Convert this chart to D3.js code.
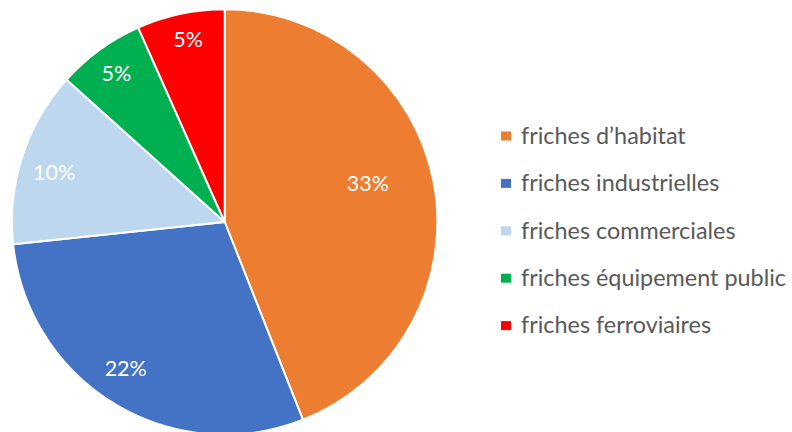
<!DOCTYPE html>
<html>
<head>
<meta charset="utf-8">
<script src="https://cdn.jsdelivr.net/npm/d3@7"></script>
<style>
  html, body { margin: 0; padding: 0; background: #ffffff; }
  svg { display: block; }
</style>
</head>
<body>
<svg id="chart" width="792" height="432"></svg>
<script>
// ---- data ----
const categories = [
  "friches d\u2019habitat",
  "friches industrielles",
  "friches commerciales",
  "friches \u00e9quipement public",
  "friches ferroviaires"
];
const values = [33, 22, 10, 5, 5];
const valueLabels = ["33%", "22%", "10%", "5%", "5%"];
const colors = ["#ED7D31", "#4472C4", "#BDD7EE", "#00B050", "#FF0000"];

// ---- layout ----
const W = 792, H = 432;
const cx = 224.7, cy = 222, R = 212.7;
const labelRadial = [0.697, 0.830, 0.836, 0.867, 0.877];
const labelAngleNudge = [-4.3, 2.9, -1.6, 0, 0.7]; // degrees
const fontFamily = "Lato, 'Open Sans', sans-serif";

const svg = d3.select("#chart");

const pie = d3.pie().sort(null).value(d => d)(values);
const arc = d3.arc().innerRadius(0).outerRadius(R);

const g = svg.append("g").attr("transform", `translate(${cx},${cy})`);

g.selectAll("path.slice")
  .data(pie)
  .join("path")
  .attr("class", "slice")
  .attr("d", arc)
  .attr("fill", (d, i) => colors[i])
  .attr("stroke", "#ffffff")
  .attr("stroke-width", 2)
  .attr("stroke-linejoin", "round");

g.selectAll("text.val")
  .data(pie)
  .join("text")
  .attr("class", "val")
  .attr("transform", (d, i) => {
    const a = (d.startAngle + d.endAngle) / 2 + labelAngleNudge[i] * Math.PI / 180;
    const r = R * labelRadial[i];
    return `translate(${r * Math.sin(a)},${-r * Math.cos(a)})`;
  })
  .attr("text-anchor", "middle")
  .attr("dy", "0.36em")
  .attr("fill", "#ffffff")
  .attr("font-family", fontFamily)
  .attr("font-size", 21.5)
  .text((d, i) => valueLabels[i]);

// ---- legend ----
const legendX = 501, legendY0 = 136, legendStep = 47.4;
const legend = svg.append("g");
const items = legend.selectAll("g.item")
  .data(categories)
  .join("g")
  .attr("class", "item")
  .attr("transform", (d, i) => `translate(${legendX},${legendY0 + i * legendStep})`);

items.append("rect")
  .attr("x", 0).attr("y", -4.5)
  .attr("width", 10).attr("height", 9)
  .attr("fill", (d, i) => colors[i]);

items.append("text")
  .attr("x", 20)
  .attr("dy", "0.33em")
  .attr("fill", "#595959")
  .attr("font-family", fontFamily)
  .attr("font-size", 23.4)
  .text(d => d);
</script>
</body>
</html>
